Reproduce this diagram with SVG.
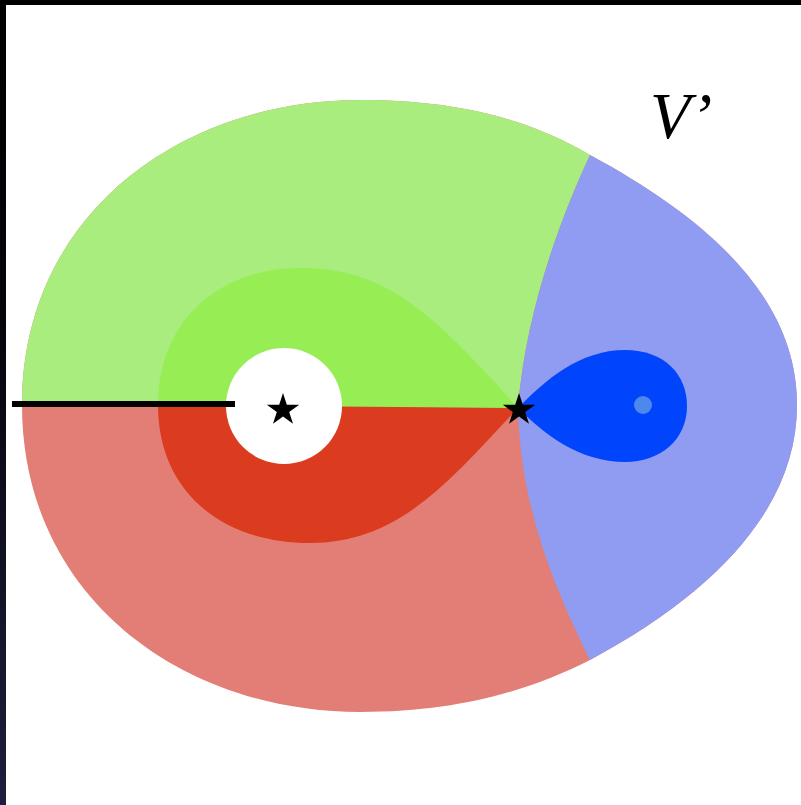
<svg xmlns="http://www.w3.org/2000/svg" width="801" height="805" viewBox="0 0 801 805">
<defs>
<linearGradient id="lb" x1="0" y1="0" x2="0" y2="1">
<stop offset="0" stop-color="#000000"/>
<stop offset="0.4" stop-color="#05050c"/>
<stop offset="1" stop-color="#1e1e3e"/>
</linearGradient>
<path id="star" d="M0,-17 L3.82,-5.26 L16.17,-5.25 L6.18,2.01 L9.99,13.75 L0,6.5 L-9.99,13.75 L-6.18,2.01 L-16.17,-5.25 L-3.82,-5.26 Z" fill="#000"/>
<style>
.lbl{font-family:"Liberation Serif","Times New Roman",serif;font-style:italic;font-size:66px;fill:#000}
</style>
</defs>
<rect width="801" height="805" fill="#ffffff"/>
<rect x="0" y="0" width="801" height="5" fill="#000"/>
<rect x="0" y="0" width="6" height="805" fill="url(#lb)"/>
<g id="regions">
<path id="red-outer" fill="#e27e75" d="M22,405 C22,215 180,100 360,100 C460,100 530,120 590,155 C720,225 797,305 797,405 C797,505 720,590 590,660 C530,690 460,712 360,712 C180,712 22,595 22,405 Z"/>
<path id="green-outer" fill="#a8ed7e" d="M22,405 C22,215 180,100 360,100 C460,100 530,120 590,155 C555,230 525,320 518,408 L22,405 Z"/>
<path id="blue-outer" fill="#8f9cf2" d="M590,155 C720,225 797,305 797,405 C797,505 720,590 590,660 C550,580 520,500 518,408 C525,320 555,230 590,155 Z"/>
<path id="green-inner" fill="#96ee54" d="M158,405 C158,320 220,268 300,268 C385,268 430,310 518,408 Z"/>
<path id="red-inner" fill="#db3b1e" d="M158,405 C158,490 220,543 310,543 C400,543 450,480 518,408 Z"/>
<path id="blue-inner" fill="#0045fb" d="M518,408 C545,380 580,350 625,350 C665,350 687,375 687,406 C687,440 660,462 625,462 C580,462 545,435 518,408 Z"/>
<circle id="blue-dot" cx="643" cy="405" r="9" fill="#4e87ee"/>
<circle id="hole" cx="284" cy="406" r="58" fill="#ffffff"/>
</g>
<g id="connectors">
<line x1="12" y1="404" x2="235" y2="404" stroke="#000" stroke-width="6"/>
</g>
<g id="star1"><use href="#star" x="283" y="410"/></g>
<g id="star2"><use href="#star" x="519" y="410"/></g>
<g id="label"><text class="lbl" x="650" y="138">V’</text></g>
</svg>
